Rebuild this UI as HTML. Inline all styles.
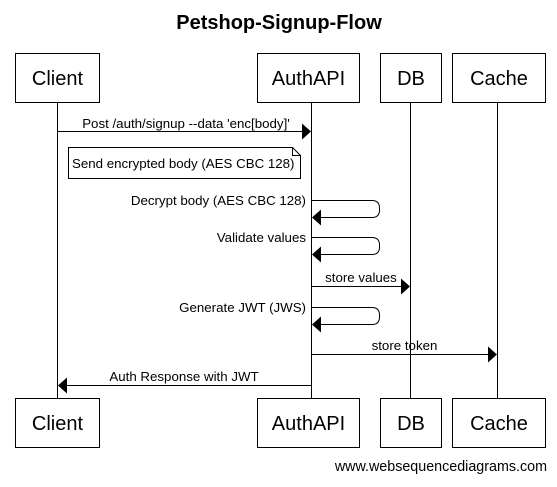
<!DOCTYPE html>
<html><head><meta charset="utf-8"><style>
html,body{margin:0;padding:0;background:#fff;}
svg text{font-family:"Liberation Sans",Arial,sans-serif;fill:#000;}
</style></head><body>
<svg width="557" height="482" viewBox="0 0 557 482" xmlns="http://www.w3.org/2000/svg">
<rect width="557" height="482" fill="#fff"/>
<text x="279" y="29" font-size="20" font-weight="bold" text-anchor="middle">Petshop-Signup-Flow</text>
<g stroke="#000" stroke-width="1" fill="none">
<line x1="57.5" y1="102" x2="57.5" y2="398"/>
<line x1="311.5" y1="102" x2="311.5" y2="398"/>
<line x1="410.5" y1="102" x2="410.5" y2="398"/>
<line x1="497.5" y1="102" x2="497.5" y2="398"/>
<rect x="15.5" y="53.5" width="84" height="49" fill="#fff"/>
<rect x="257.5" y="53.5" width="102" height="49" fill="#fff"/>
<rect x="380.5" y="53.5" width="61" height="49" fill="#fff"/>
<rect x="452.5" y="53.5" width="93" height="49" fill="#fff"/>
<rect x="15.5" y="398.5" width="84" height="49" fill="#fff"/>
<rect x="257.5" y="398.5" width="102" height="49" fill="#fff"/>
<rect x="380.5" y="398.5" width="61" height="49" fill="#fff"/>
<rect x="452.5" y="398.5" width="93" height="49" fill="#fff"/>
<line x1="57.5" y1="131.5" x2="303" y2="131.5"/>
<path d="M68.5 147.5 H292.5 L300.5 155.5 V178.5 H68.5 Z" fill="#fff"/>
<path d="M292.5 147.5 V155.5 H300.5"/>
<path d="M311.5 200.5 H372 Q379.5 200.5 379.5 208 V210 Q379.5 217.5 372 217.5 H321"/>
<path d="M311.5 237.5 H372 Q379.5 237.5 379.5 245 V247 Q379.5 254.5 372 254.5 H321"/>
<line x1="311.5" y1="286.5" x2="402" y2="286.5"/>
<path d="M311.5 307.5 H372 Q379.5 307.5 379.5 315 V317 Q379.5 324.5 372 324.5 H321"/>
<line x1="311.5" y1="354.5" x2="489" y2="354.5"/>
<line x1="66" y1="385.5" x2="311.5" y2="385.5"/>
</g>
<g fill="#000">
<polygon points="311,131.5 302,123.5 302,139.5"/>
<polygon points="312,217.5 321,209.5 321,225.5"/>
<polygon points="312,254.5 321,246.5 321,262.5"/>
<polygon points="410,286.5 401,278.5 401,294.5"/>
<polygon points="312,324.5 321,316.5 321,332.5"/>
<polygon points="497,354.5 488,346.5 488,362.5"/>
<polygon points="58,385.5 67,377.5 67,393.5"/>
</g>
<g font-size="20" text-anchor="middle">
<text x="57.5" y="85">Client</text>
<text x="308.5" y="85">AuthAPI</text>
<text x="411" y="85">DB</text>
<text x="499" y="85">Cache</text>
<text x="57.5" y="430">Client</text>
<text x="308.5" y="430">AuthAPI</text>
<text x="411" y="430">DB</text>
<text x="499" y="430">Cache</text>
</g>
<g font-size="13.3">
<text x="186" y="128" text-anchor="middle">Post /auth/signup --data 'enc[body]'</text>
<text x="72" y="168">Send encrypted body (AES CBC 128)</text>
<text x="306" y="205" text-anchor="end">Decrypt body (AES CBC 128)</text>
<text x="306" y="242" text-anchor="end">Validate values</text>
<text x="361" y="282" text-anchor="middle">store values</text>
<text x="306" y="312" text-anchor="end">Generate JWT (JWS)</text>
<text x="404.5" y="350" text-anchor="middle">store token</text>
<text x="184" y="381" text-anchor="middle">Auth Response with JWT</text>
<text x="547" y="471" text-anchor="end" font-size="14.3">www.websequencediagrams.com</text>
</g>
</svg>
</body></html>
